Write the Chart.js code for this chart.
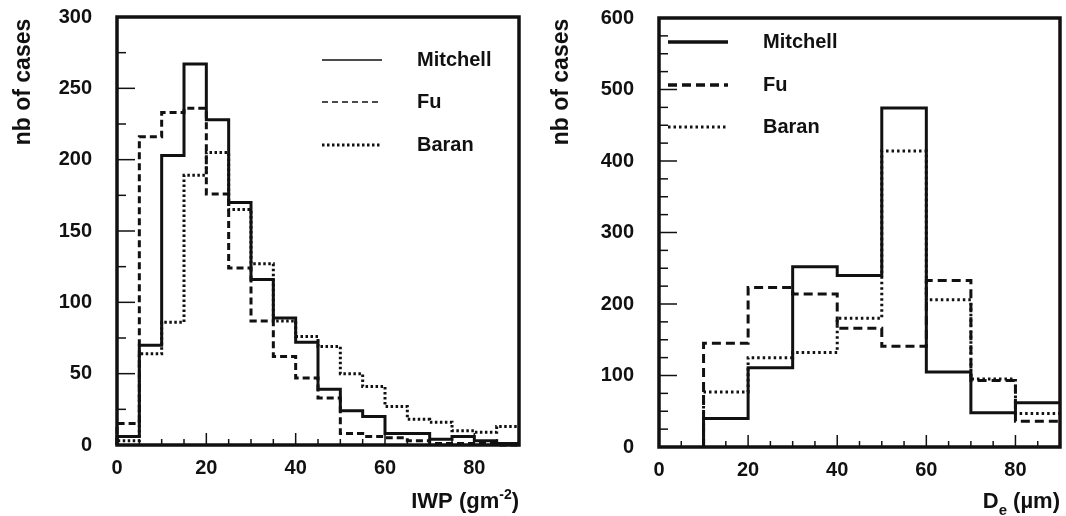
<!DOCTYPE html>
<html>
<head>
<meta charset="utf-8">
<script src="https://cdn.jsdelivr.net/npm/chart.js@4.4.1/dist/chart.umd.min.js"></script>
<style>
  body { margin: 0; background: #fff; }
  canvas { position: absolute; top: 0; }
  #left { left: 0; }
  #right { left: 533px; }
</style>
</head>
<body>
<canvas id="left" width="533" height="516"></canvas>
<canvas id="right" width="533" height="516"></canvas>
<script>
// left panel: IWP histogram, bins of 5 g/m2
const iwpBins = [0, 5, 10, 15, 20, 25, 30, 35, 40, 45, 50, 55, 60, 65, 70, 75, 80, 85];
const iwpEnd = 90;
const mitchellIwp = [6, 70, 203, 267, 228, 170, 116, 89, 72, 39, 24, 20, 8, 8, 4, 6, 3, 1];
const fuIwp = [15, 216, 233, 236, 176, 124, 87, 62, 47, 33, 8, 6, 5, 3, 1, 1, 1, 0];
const baranIwp = [3, 64, 86, 189, 205, 165, 127, 87, 76, 69, 50, 41, 27, 18, 16, 10, 9, 13];

// right panel: De histogram, bins of 10 um
const deBins = [10, 20, 30, 40, 50, 60, 70, 80];
const deEnd = 90;
const mitchellDe = [40, 111, 252, 240, 474, 105, 48, 62];
const fuDe = [145, 223, 214, 166, 141, 233, 93, 36];
const baranDe = [77, 125, 132, 180, 414, 206, 95, 47];

const seriesNames = ['Mitchell', 'Fu', 'Baran'];
const xTickLabels = [0, 20, 40, 60, 80];

const ink = '#111';
const boldFont = 'bold 20px "Liberation Sans", Arial, sans-serif';

// histogram outline as stepped line, rising from 0 at the first bin edge
function steps(bins, end, values) {
  const pts = [{x: bins[0], y: 0}];
  values.forEach((v, i) => pts.push({x: bins[i], y: v}));
  pts.push({x: end, y: values[values.length - 1]});
  return pts;
}

function line(c, x0, y0, x1, y1) {
  c.beginPath(); c.moveTo(x0, y0); c.lineTo(x1, y1); c.stroke();
}

const framePlugin = {
  id: 'frame',
  afterDraw(chart, args, o) {
    const c = chart.ctx, a = chart.chartArea;
    const xs = chart.scales.x, ys = chart.scales.y;
    c.save();
    c.strokeStyle = ink;
    c.fillStyle = ink;
    c.lineWidth = 1.5;
    xs.ticks.forEach(t => {
      const px = xs.getPixelForValue(t.value);
      line(c, px, a.bottom, px, a.bottom - (t.value % 20 === 0 ? 12 : 6));
    });
    ys.ticks.forEach(t => {
      const py = ys.getPixelForValue(t.value);
      line(c, a.left, py, a.left + (t.value % o.yMajor === 0 ? 18 : 9), py);
    });
    c.lineWidth = 3.5;
    c.strokeRect(a.left, a.top, a.right - a.left, a.bottom - a.top);

    // legend inside the frame
    c.font = boldFont;
    c.textBaseline = 'middle';
    c.textAlign = 'left';
    chart.data.datasets.forEach((ds, i) => {
      const st = o.legend.styles[i];
      const y = o.legend.y[i];
      c.lineWidth = st.width;
      c.setLineDash(st.dash);
      line(c, o.legend.x0, y, o.legend.x1, y);
      c.setLineDash([]);
      c.fillText(ds.label, o.legend.tx, y);
    });

    // y title
    c.save();
    c.translate(o.yTitleX, 82);
    c.rotate(-Math.PI / 2);
    c.textAlign = 'center';
    c.font = 'bold 23px "Liberation Sans", Arial, sans-serif';
    c.fillText('nb of cases', 0, 0);
    c.restore();

    // x title with super/subscript parts, right aligned
    c.textBaseline = 'alphabetic';
    let w = 0;
    o.xTitle.forEach(p => { c.font = 'bold ' + p.size + 'px "Liberation Sans", Arial'; w += c.measureText(p.t).width; });
    let x = a.right - w;
    o.xTitle.forEach(p => {
      c.font = 'bold ' + p.size + 'px "Liberation Sans", Arial';
      c.fillText(p.t, x, 508 + p.dy);
      x += c.measureText(p.t).width;
    });
    c.restore();
  }
};

function makeChart(id, cfg) {
  return new Chart(document.getElementById(id), {
    type: 'line',
    data: {
      datasets: [
        {label: seriesNames[0], data: cfg.series[0], borderDash: []},
        {label: seriesNames[1], data: cfg.series[1], borderDash: cfg.dash},
        {label: seriesNames[2], data: cfg.series[2], borderDash: cfg.dot}
      ].map(d => Object.assign(d, {
        stepped: 'before', pointRadius: 0, borderWidth: 3, borderColor: ink,
        fill: false, borderCapStyle: 'butt', clip: 4
      }))
    },
    options: {
      responsive: false,
      animation: false,
      layout: {padding: cfg.padding},
      plugins: {
        legend: {display: false},
        tooltip: {enabled: false},
        frame: cfg.frame
      },
      scales: {
        x: {
          type: 'linear', min: 0, max: 90,
          grid: {display: false}, border: {display: false},
          afterFit: s => { s.height = cfg.xHeight; s.paddingLeft = 0; s.paddingRight = 0; },
          ticks: {
            stepSize: 5, autoSkip: false, maxRotation: 0, padding: 3,
            color: ink, font: {family: '"Liberation Sans", Arial', size: 20, weight: 'bold'},
            callback: v => xTickLabels.includes(v) ? v : ''
          }
        },
        y: {
          min: 0, max: cfg.yMax,
          grid: {display: false}, border: {display: false},
          afterFit: s => { s.width = cfg.yWidth; s.paddingTop = 0; s.paddingBottom = 0; },
          ticks: {
            stepSize: 25, autoSkip: false, padding: 17,
            color: ink, font: {family: '"Liberation Sans", Arial', size: 20, weight: 'bold'},
            callback: v => v % cfg.frame.yMajor === 0 ? v : ''
          }
        }
      }
    },
    plugins: [framePlugin]
  });
}

makeChart('left', {
  series: [steps(iwpBins, iwpEnd, mitchellIwp), steps(iwpBins, iwpEnd, fuIwp), steps(iwpBins, iwpEnd, baranIwp)],
  dash: [7, 4], dot: [2.5, 2.5],
  padding: {left: 0, top: 17, right: 14, bottom: 0},
  yWidth: 117, xHeight: 71, yMax: 300,
  frame: {
    yMajor: 50, yTitleX: 24,
    legend: {
      x0: 322, x1: 382, tx: 417, y: [60, 102, 145],
      styles: [{width: 1.5, dash: []}, {width: 1.5, dash: [6, 4]}, {width: 3, dash: [2.5, 2.5]}]
    },
    xTitle: [{t: 'IWP (gm', size: 22, dy: 0}, {t: '-2', size: 14, dy: -9}, {t: ')', size: 22, dy: 0}]
  }
});

makeChart('right', {
  series: [steps(deBins, deEnd, mitchellDe), steps(deBins, deEnd, fuDe), steps(deBins, deEnd, baranDe)],
  dash: [9, 5], dot: [2.5, 3],
  padding: {left: 0, top: 18, right: 6, bottom: 0},
  yWidth: 126, xHeight: 69, yMax: 600,
  frame: {
    yMajor: 100, yTitleX: 29,
    legend: {
      x0: 135, x1: 195, tx: 230, y: [42, 85, 127],
      styles: [{width: 3.5, dash: []}, {width: 3.5, dash: [9, 5]}, {width: 3, dash: [2.5, 3]}]
    },
    xTitle: [{t: 'D', size: 22, dy: 0}, {t: 'e', size: 15, dy: 7}, {t: ' (\u00b5m)', size: 22, dy: 0}]
  }
});
</script>
</body>
</html>
